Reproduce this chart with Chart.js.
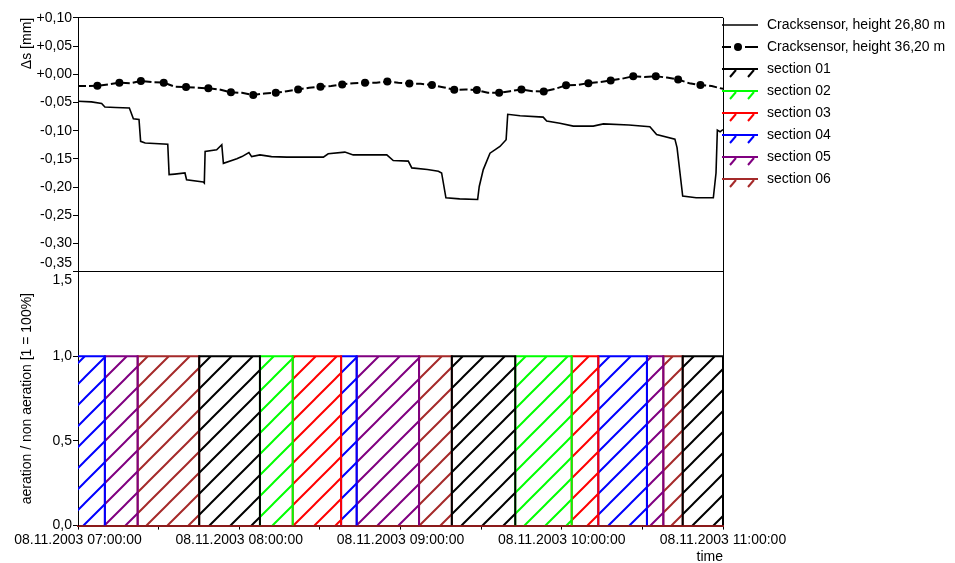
<!DOCTYPE html>
<html>
<head>
<meta charset="utf-8">
<title>Cracksensor / aeration 08.11.2003</title>
<script src="https://cdn.jsdelivr.net/npm/chart.js@4"></script>
<style>
  body { margin: 0; background: #fff; }
  #wrap { width: 955px; height: 563px; }
</style>
</head>
<body>
<div id="wrap"><canvas id="myChart"></canvas></div>
<script>
// x values are minutes after 08.11.2003 07:00:00
const timeMin = 0;
const timeMax = 240;
const xTickTimes = [0, 60, 120, 180, 240];
const xTickLabels = [
    "08.11.2003 07:00:00",
    "08.11.2003 08:00:00",
    "08.11.2003 09:00:00",
    "08.11.2003 10:00:00",
    "08.11.2003 11:00:00",
];

// Δs axis and aeration axis
const dsMin = -0.35, dsMax = 0.10, dsStep = 0.05;
const aerMin = 0, aerMax = 1.5, aerStep = 0.5;

// Cracksensor, height 26,80 m
const crack1Time = [0, 5, 8.8, 10, 14, 19.1, 19.6, 20.6, 22.7, 23.3, 25, 33.4, 33.9, 36, 39.8, 40.4, 46.6, 47.0, 47.3, 51.6,
    53.5, 54.1, 59.1, 61, 63.6, 64.6, 67.7, 72, 77.7, 91.3, 93.1, 99.3, 102.4, 114.9, 117.3, 122.9, 124.2, 130, 134.1, 135.3,
    136.9, 142, 148.7, 149.3, 150.8, 153.3, 157, 159.3, 159.9, 164.5, 173.1, 174.4, 179.3, 184.3, 191.7, 195.5, 205, 212.8,
    215.3, 222.1, 222.9, 225.0, 230, 236.4, 237.4, 237.9, 238.9, 240];
const crack1Value = [-0.048, -0.049, -0.052, -0.058, -0.059, -0.060, -0.066, -0.079, -0.080, -0.119, -0.122, -0.124, -0.178,
    -0.177, -0.175, -0.187, -0.191, -0.193, -0.137, -0.134, -0.125, -0.158, -0.150, -0.146, -0.139, -0.146, -0.143, -0.146,
    -0.147, -0.147, -0.141, -0.138, -0.143, -0.143, -0.153, -0.154, -0.166, -0.169, -0.172, -0.175, -0.219, -0.221, -0.222,
    -0.199, -0.169, -0.140, -0.128, -0.116, -0.071, -0.0735, -0.076, -0.083, -0.087, -0.092, -0.092, -0.088, -0.090, -0.093,
    -0.107, -0.115, -0.130, -0.216, -0.219, -0.219, -0.175, -0.099, -0.102, -0.098];

// Cracksensor, height 36,20 m (1 = drawn with a marker)
const crack2Time = [0, 3.6, 7.2, 11.3, 15.4, 19.4, 23.4, 27.6, 31.9, 36, 40.2, 44.3, 48.5, 52.7, 56.9, 61, 65.2, 69.4, 73.6,
    77.7, 81.9, 86, 90.2, 94.2, 98.3, 102.5, 106.8, 111, 115.1, 119.2, 123.3, 127.5, 131.7, 135.8, 140, 144.2, 148.4, 152.5,
    156.7, 160.8, 165, 169.1, 173.3, 177.5, 181.6, 185.7, 189.9, 194, 198.2, 202.4, 206.6, 210.8, 215, 219.1, 223.3, 227.5,
    231.6, 235.8, 240];
const crack2Value = [-0.021, -0.021, -0.0205, -0.018, -0.015, -0.016, -0.012, -0.014, -0.015, -0.022, -0.0228, -0.024,
    -0.025, -0.027, -0.032, -0.033, -0.037, -0.034, -0.033, -0.030, -0.027, -0.024, -0.022, -0.021, -0.018, -0.016, -0.015,
    -0.015, -0.013, -0.015, -0.0165, -0.017, -0.019, -0.023, -0.0276, -0.027, -0.028, -0.033, -0.033, -0.030, -0.027, -0.030,
    -0.0306, -0.026, -0.0196, -0.019, -0.0158, -0.014, -0.011, -0.008, -0.0035, -0.005, -0.0035, -0.006, -0.0094, -0.016,
    -0.019, -0.021, -0.026];
const crack2Marker = [0, 0, 1, 0, 1, 0, 1, 0, 1, 0, 1, 0, 1, 0, 1, 0, 1, 0, 1, 0, 1, 0, 1, 0, 1, 0, 1, 0, 1, 0, 1, 0, 1, 0,
    1, 0, 1, 0, 1, 0, 1, 0, 1, 0, 1, 0, 1, 0, 1, 0, 1, 0, 1, 0, 1, 0, 1, 0, 0];

// aeration: section active between switchTimes[i] and switchTimes[i + 1]
const sectionNames = ["section 01", "section 02", "section 03", "section 04", "section 05", "section 06"];
const switchTimes = [-5, 10, 22.2, 45.1, 67.7, 79.9, 97.9, 103.7, 126.9, 139.1, 162.7, 183.7, 193.6, 211.7, 217.8, 225, 240];
const activeSection = [4, 5, 6, 1, 2, 3, 4, 5, 6, 1, 2, 3, 4, 5, 6, 1];
const aerationLevel = 1; // 1 = 100%

const sectionColors = ["#000000", "#00ff00", "#ff0000", "#0000ff", "#800080", "#a52a2a"];

(function () {
    const canvas = document.getElementById("myChart");
    const ctx2d = canvas.getContext("2d");

    Chart.defaults.font.family = '"Liberation Sans", Arial, sans-serif';
    Chart.defaults.font.size = 14;
    Chart.defaults.color = "#000";

    function hatch(color) {
        const c = document.createElement("canvas");
        c.width = 21;
        c.height = 21;
        const g = c.getContext("2d");
        g.strokeStyle = color;
        g.lineWidth = 2;
        g.beginPath();
        g.moveTo(0, 21); g.lineTo(21, 0);
        g.moveTo(-3, 3); g.lineTo(3, -3);
        g.moveTo(18, 24); g.lineTo(24, 18);
        g.stroke();
        return ctx2d.createPattern(c, "repeat");
    }

    function sectionPoints(id) {
        const pts = [];
        for (let i = 0; i < activeSection.length; i++) {
            if (activeSection[i] !== id) continue;
            const s = switchTimes[i], e = switchTimes[i + 1];
            pts.push({ x: s, y: 0 }, { x: s, y: aerationLevel }, { x: e, y: aerationLevel }, { x: e, y: 0 }, { x: e, y: null });
        }
        return pts;
    }

    const datasets = [
        {
            label: "Cracksensor, height 26,80 m",
            legendKind: "line",
            data: crack1Time.map((t, i) => ({ x: t, y: crack1Value[i] })),
            yAxisID: "y",
            borderColor: "#000",
            borderWidth: 1.6,
            pointRadius: 0,
        },
        {
            label: "Cracksensor, height 36,20 m",
            legendKind: "marker",
            data: crack2Time.map((t, i) => ({ x: t, y: crack2Value[i] })),
            yAxisID: "y",
            borderColor: "#000",
            borderWidth: 2,
            borderDash: [8, 3],
            pointRadius: crack2Marker.map((m) => (m ? 4 : 0)),
            pointBackgroundColor: "#000",
            pointBorderWidth: 0,
        },
    ];
    sectionNames.forEach((name, k) => {
        datasets.push({
            label: name,
            legendKind: "section",
            data: sectionPoints(k + 1),
            yAxisID: "y2",
            borderColor: sectionColors[k],
            borderWidth: 2,
            backgroundColor: hatch(sectionColors[k]),
            fill: "origin",
            pointRadius: 0,
            spanGaps: false,
        });
    });

    // legend drawn next to the plot, like the original
    const sideLegend = {
        id: "sideLegend",
        afterDraw(chart) {
            const c = chart.ctx;
            const x0 = chart.chartArea.right - 1;
            const x1 = x0 + 36;
            let y = 25;
            c.save();
            c.font = '14px "Liberation Sans", Arial, sans-serif';
            c.textBaseline = "middle";
            chart.data.datasets.forEach((ds) => {
                c.strokeStyle = ds.borderColor;
                c.fillStyle = ds.borderColor;
                c.lineWidth = 2;
                c.beginPath();
                if (ds.legendKind === "marker") {
                    c.moveTo(x0, y); c.lineTo(x0 + 9, y);
                    c.moveTo(x0 + 23, y); c.lineTo(x1, y);
                    c.stroke();
                    c.beginPath();
                    c.arc(x0 + 16, y, 4, 0, Math.PI * 2);
                    c.fill();
                } else if (ds.legendKind === "section") {
                    c.moveTo(x0, y); c.lineTo(x1, y);
                    c.moveTo(x0 + 8, y + 8); c.lineTo(x0 + 14, y + 1);
                    c.moveTo(x0 + 26, y + 8); c.lineTo(x0 + 32, y + 1);
                    c.stroke();
                } else {
                    c.lineWidth = 1.5;
                    c.moveTo(x0, y); c.lineTo(x1, y);
                    c.stroke();
                }
                c.fillStyle = "#000";
                c.fillText(ds.label, x0 + 45, y);
                y += 22;
            });
            c.restore();
        },
    };

    const near = (a, b) => Math.abs(a - b) < 1e-9;

    new Chart(canvas, {
        type: "line",
        data: { datasets: datasets },
        plugins: [sideLegend],
        options: {
            responsive: true,
            maintainAspectRatio: false,
            animation: false,
            layout: { padding: { top: 16, right: 232, left: 0, bottom: 0 } },
            plugins: {
                legend: { display: false },
                tooltip: { enabled: false },
            },
            elements: { line: { tension: 0 } },
            scales: {
                x: {
                    type: "linear",
                    min: timeMin,
                    max: timeMax,
                    ticks: {
                        stepSize: 30,
                        autoSkip: false,
                        maxRotation: 0,
                        padding: 2,
                        callback: (v) => {
                            const i = xTickTimes.indexOf(v);
                            return i >= 0 ? xTickLabels[i] : "";
                        },
                    },
                    grid: {
                        color: (c) => (c.tick && near(c.tick.value, timeMax) ? "#000" : "rgba(0,0,0,0)"),
                        tickColor: "#000",
                        tickLength: 4,
                    },
                    border: { color: "#8b1a1a", width: 2 },
                    title: { display: true, text: "time", align: "end", padding: 0, font: { size: 14, lineHeight: 0.9 } },
                },
                y: {
                    type: "linear",
                    position: "left",
                    stack: "panels",
                    stackWeight: 1,
                    weight: 1,
                    min: dsMin,
                    max: dsMax,
                    ticks: {
                        stepSize: dsStep,
                        autoSkip: false,
                        padding: 1,
                        callback: (v) => {
                            const s = (v > -1e-9 ? "+" : "-") + Math.abs(v).toFixed(2).replace(".", ",");
                            return near(v, dsMin) ? [s, ""] : s;
                        },
                    },
                    grid: {
                        color: (c) => (c.tick && (near(c.tick.value, dsMax) || near(c.tick.value, dsMin)) ? "#000" : "rgba(0,0,0,0)"),
                        tickColor: "#000",
                        tickLength: 5,
                    },
                    border: { color: "#000" },
                    title: { display: true, text: "Δs [mm]", align: "end", padding: { top: 19, bottom: 0 } },
                    afterFit: (s) => { s.width = 78; },
                },
                y2: {
                    type: "linear",
                    position: "left",
                    stack: "panels",
                    stackWeight: 1,
                    weight: 0,
                    min: aerMin,
                    max: aerMax,
                    ticks: {
                        stepSize: aerStep,
                        autoSkip: false,
                        padding: 1,
                        callback: (v) => {
                            const s = v.toFixed(1).replace(".", ",");
                            return near(v, aerMax) ? ["", s] : s;
                        },
                    },
                    grid: { color: "rgba(0,0,0,0)", tickColor: "#000", tickLength: 5 },
                    border: { color: "#000" },
                    title: { display: true, text: "aeration / non aeration [1 = 100%]", padding: { top: 19, bottom: 0 } },
                    afterFit: (s) => { s.width = 78; },
                },
            },
        },
    });
})();
</script>
</body>
</html>
